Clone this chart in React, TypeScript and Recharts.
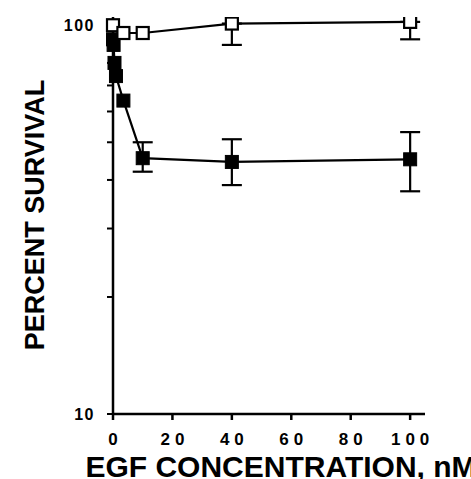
import { ComposedChart, Line, XAxis, YAxis, ErrorBar } from 'recharts';

const FONT = '"Liberation Sans", Arial, Helvetica, sans-serif';

// EGF concentration (nM) and percent survival
const openX = [0, 3.5, 10, 40, 100];
const openY = [100, 95.5, 95.5, 101, 102];
const openLow = [null, null, null, 89, 92];

const filledX = [0, 0.2, 0.5, 1, 3.5, 10, 40, 100];
const filledY = [92, 89, 80, 74, 64, 45.5, 44.5, 45.2];
const filledLow = [null, null, null, null, null, 42, 38.8, 37.4];
const filledHigh = [null, null, null, null, null, 50, 50.9, 53.1];

const xTicks = [0, 20, 40, 60, 80, 100];
const yTicks = [10, 20, 30, 40, 50, 60, 70, 80, 90, 100];
const yLabelled = [10, 100];

const openData = openX.map((x, i) => ({
  x,
  y: openY[i],
  err: openLow[i] == null ? null : [openY[i] - (openLow[i] as number), 0],
}));

const filledData = filledX.map((x, i) => ({
  x,
  y: filledY[i],
  err:
    filledLow[i] == null
      ? null
      : [filledY[i] - (filledLow[i] as number), (filledHigh[i] as number) - filledY[i]],
}));

const OpenSquare = (p: any) => (
  <rect
    key={`o-${p.index}`}
    x={p.cx - 6}
    y={p.cy - 6}
    width={12}
    height={12}
    fill="#fff"
    stroke="#000"
    strokeWidth={2.2}
  />
);

const FilledSquare = (p: any) => (
  <rect
    key={`f-${p.index}`}
    x={p.cx - 6.5}
    y={p.cy - 6.5}
    width={13}
    height={13}
    fill="#000"
    stroke="#000"
    strokeWidth={1}
  />
);

const renderXTick = ({ x, y, payload }: any) => (
  <text
    x={x + 2.5}
    y={y + 23}
    textAnchor="middle"
    fontFamily={FONT}
    fontWeight="bold"
    fontSize={17}
    letterSpacing={5}
    fill="#000"
  >
    {payload.value}
  </text>
);

const renderYTick = ({ x, y, payload }: any) => (
  <text
    x={x + 2}
    y={y + 6}
    textAnchor="end"
    fontFamily={FONT}
    fontWeight="bold"
    fontSize={16}
    letterSpacing={1.5}
    fill="#000"
  >
    {yLabelled.includes(payload.value) ? String(payload.value) : ''}
  </text>
);

export default function App() {
  return (
    <div style={{ position: 'absolute', left: 0, top: 0, width: 471, height: 479, background: '#fff' }}>
      <ComposedChart width={471} height={479} margin={{ top: 17, right: 46, bottom: 0, left: 53 }}>
        <XAxis
          type="number"
          dataKey="x"
          domain={[0, 105]}
          ticks={xTicks}
          height={65}
          stroke="#000"
          strokeWidth={2.5}
          tickSize={6}
          tickLine={{ stroke: '#000', strokeWidth: 2.5 }}
          tick={renderXTick}
          label={{
            content: () => (
              <text
                x={281}
                y={477}
                textAnchor="middle"
                fontFamily={FONT}
                fontWeight="bold"
                fontSize={30}
                fill="#000"
              >
                EGF CONCENTRATION, nM
              </text>
            ),
          }}
        />
        <YAxis
          type="number"
          scale="log"
          domain={[10, 105]}
          allowDataOverflow
          ticks={yTicks}
          interval={0}
          width={60}
          stroke="#000"
          strokeWidth={2.5}
          tickSize={6}
          tickMargin={14}
          tickLine={{ stroke: '#000', strokeWidth: 2 }}
          tick={renderYTick}
          label={{
            content: () => (
              <text
                x={44}
                y={215}
                transform="rotate(-90 44 215)"
                textAnchor="middle"
                fontFamily={FONT}
                fontWeight="bold"
                fontSize={27}
                fill="#000"
              >
                PERCENT SURVIVAL
              </text>
            ),
          }}
        />
        <Line
          data={filledData}
          dataKey="y"
          stroke="#000"
          strokeWidth={2.2}
          dot={FilledSquare}
          activeDot={false}
          isAnimationActive={false}
        >
          <ErrorBar dataKey="err" direction="y" width={10} stroke="#000" strokeWidth={2.2} />
        </Line>
        <Line
          data={openData}
          dataKey="y"
          stroke="#000"
          strokeWidth={2.2}
          dot={OpenSquare}
          activeDot={false}
          isAnimationActive={false}
        >
          <ErrorBar dataKey="err" direction="y" width={10} stroke="#000" strokeWidth={2.2} />
        </Line>
      </ComposedChart>
    </div>
  );
}
